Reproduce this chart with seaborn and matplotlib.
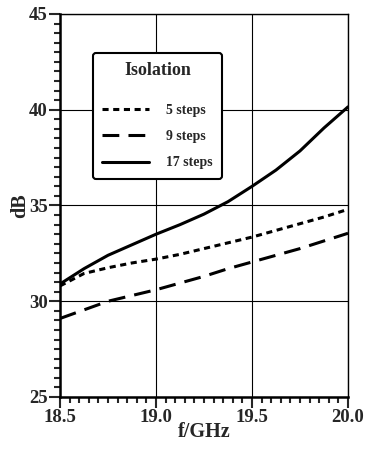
import matplotlib
matplotlib.use("Agg")
import matplotlib.pyplot as plt
import seaborn as sns
from matplotlib.ticker import MultipleLocator, FormatStrFormatter

# 数据
freq = [18.5, 18.625, 18.75, 18.875, 19.0, 19.125, 19.25, 19.375, 19.5, 19.625, 19.75, 19.875, 20.0]
iso_5 = [30.8, 31.45, 31.75, 32.0, 32.2, 32.45, 32.75, 33.05, 33.35, 33.7, 34.05, 34.4, 34.8]
iso_9 = [29.1, 29.55, 30.0, 30.3, 30.6, 30.95, 31.3, 31.7, 32.05, 32.4, 32.75, 33.15, 33.55]
iso_17 = [30.9, 31.7, 32.4, 32.95, 33.5, 34.0, 34.55, 35.2, 36.0, 36.85, 37.85, 39.05, 40.15]
labels = ['5 steps', '9 steps', '17 steps']

sns.set_style("white")
plt.rcParams['font.family'] = ['Liberation Serif', 'DejaVu Serif']
plt.rcParams['font.weight'] = 'bold'

fig = plt.figure(figsize=(3.65, 4.49), dpi=100)
ax = fig.add_axes([60 / 365, 1 - 397 / 449, 288 / 365, 383 / 449])

dash_styles = [(2.0, 1.5), (5.5, 3.0), None]
for vals, name, dash in zip([iso_5, iso_9, iso_17], labels, dash_styles):
    sns.lineplot(x=freq, y=vals, ax=ax, color='black', linewidth=2.2, label=name)
    line = ax.lines[-1]
    if dash is not None:
        line.set_dashes(dash)
        line.set_dash_capstyle('butt')

ax.set_xlim(18.5, 20.0)
ax.set_ylim(25, 45)
ax.xaxis.set_major_locator(MultipleLocator(0.5))
ax.xaxis.set_minor_locator(MultipleLocator(0.05))
ax.yaxis.set_major_locator(MultipleLocator(5))
ax.yaxis.set_minor_locator(MultipleLocator(0.5))
ax.xaxis.set_major_formatter(FormatStrFormatter('%.1f'))

ax.grid(True, which='major', color='black', linewidth=0.8)
ax.tick_params(which='major', direction='out', length=8, width=1.5, labelsize=13.5, pad=1,
               bottom=True, left=True, top=False, right=False)
ax.tick_params(which='minor', direction='out', length=4, width=1.5,
               bottom=True, left=True, top=False, right=False)
for lbl in ax.get_xticklabels() + ax.get_yticklabels():
    lbl.set_fontweight('bold')

for side in ['left', 'bottom']:
    ax.spines[side].set_linewidth(1.8)
    ax.spines[side].set_color('black')
for side in ['top', 'right']:
    ax.spines[side].set_linewidth(1.0)
    ax.spines[side].set_color('black')

ax.set_xlabel('f/GHz', fontsize=14.5, fontweight='bold', labelpad=-3)
ax.set_ylabel('dB', fontsize=14.5, fontweight='bold', labelpad=-1)

leg = ax.legend(loc='upper left', bbox_to_anchor=(0.115, 0.898), borderaxespad=0, title='Isolation',
                frameon=True, fancybox=True, edgecolor='black', framealpha=1,
                prop={'size': 10, 'weight': 'bold'}, handlelength=3.4, handletextpad=1.2,
                labelspacing=0.95, borderpad=0.65)
leg.get_title().set_fontsize(13)
leg.get_title().set_fontweight('bold')
leg._legend_box.sep = 18
leg.get_frame().set_linewidth(1.5)

fig.savefig('out.png', dpi=100)
